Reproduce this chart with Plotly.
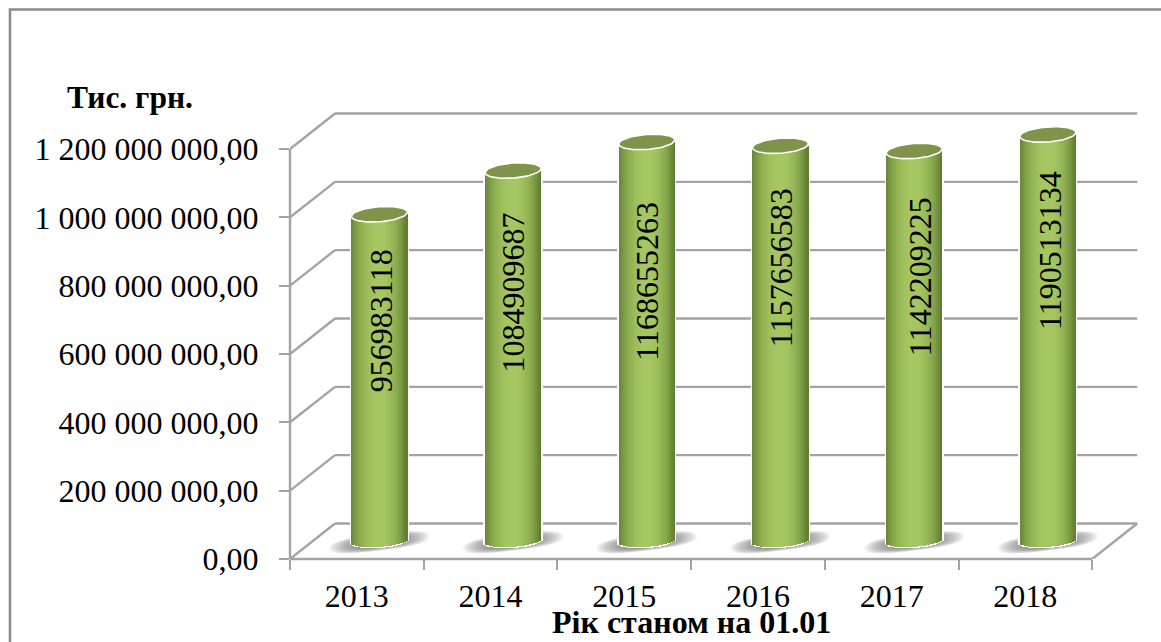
import math
import plotly.graph_objects as go

YEARS = ["2013", "2014", "2015", "2016", "2017", "2018"]
VALUES = [956983118, 1084909687, 1168655263, 1157656583, 1142209225, 1190513134]
LABELS = ["956983118", "1084909687", "1168655263", "1157656583", "1142209225", "1190513134"]
LABEL_SHIFT_PX = [106, 122, 139, 122, 126, 116]
LABEL_NUDGE_PX = [1.5, 0, 0, 0, 6, 2.7]
Y_TICKS = [0, 200e6, 400e6, 600e6, 800e6, 1000e6, 1200e6]
Y_TICK_LABELS = ["0,00", "200 000 000,00", "400 000 000,00", "600 000 000,00",
                 "800 000 000,00", "1 000 000 000,00", "1 200 000 000,00"]

# pixel geometry of the frame
W, H = 1161, 642
L, R, T, B = 290, 1142, 112, 559
CAT_PX = 133.7
VAL_PER_PX = 1.2e9 / 410
DX = 45 / CAT_PX
DY = 35.5 * VAL_PER_PX
XMIN = -0.5
XMAX = XMIN + (R - L) / CAT_PX
YMAX = (B - T) * VAL_PER_PX
RX = 28 / CAT_PX
RY = 7.5 * VAL_PER_PX
RY_BOTTOM = 5.5 * VAL_PER_PX
SHEAR = 0.07
GRID = "#a3a3a3"
STRIPS = 28


def mix(a, b, f):
    return tuple(a[i] + (b[i] - a[i]) * f for i in range(3))


def strip_color(t):
    edge = (104, 134, 56) if t < 0 else (92, 120, 48)
    mid = (166, 199, 97)
    c = mix(edge, mid, 1 - abs(t) ** 2.2)
    return "rgb(%d,%d,%d)" % c


cx = [i + DX / 2 for i in range(len(VALUES))]
base0 = DY / 2

sx, sy, sb, sw, sc = [], [], [], [], []
for i, v in enumerate(VALUES):
    for k in range(STRIPS + 2):
        t = -1 + (2 * k + 1) / (STRIPS + 2)
        sx.append(cx[i] + t * (RX + 1.5 / CAT_PX))
        w = 2 * (RX + 1.5 / CAT_PX) / (STRIPS + 2) * 1.1
        sw.append(w)
        b = base0 - (RY_BOTTOM + 1.3 * VAL_PER_PX) * math.sqrt(max(0, 1 - t * t)) + SHEAR * t * RX * CAT_PX * VAL_PER_PX
        sb.append(b)
        sy.append(base0 + v - b)
        sc.append("#ffffff")
    for k in range(STRIPS):
        t = -1 + (2 * k + 1) / STRIPS
        sx.append(cx[i] + t * RX)
        sw.append(2 * RX / STRIPS * 1.15)
        b = base0 - RY_BOTTOM * math.sqrt(max(0, 1 - t * t)) + SHEAR * t * RX * CAT_PX * VAL_PER_PX
        sb.append(b)
        sy.append(base0 + v - b)
        sc.append(strip_color(t))

fig = go.Figure()
fig.add_trace(go.Bar(x=sx, y=sy, base=sb, width=sw,
                     marker=dict(color=sc, line=dict(width=0)),
                     hoverinfo="skip", showlegend=False))

# cylinder tops
for i, v in enumerate(VALUES):
    ex, ey = [], []
    for a in range(73):
        th = a * math.pi / 36
        ct, st = math.cos(th), math.sin(th)
        ex.append(cx[i] + RX * ct)
        ey.append(base0 + v + RY * st + SHEAR * ct * RX * CAT_PX * VAL_PER_PX)
    fig.add_trace(go.Scatter(x=ex, y=ey, mode="lines", fill="toself", fillcolor="#7f944a",
                             line=dict(color="#ffffff", width=1.6),
                             hoverinfo="skip", showlegend=False))

shapes = []


def line(x0, y0, x1, y1, xref="x", yref="y", width=2.4, layer="below"):
    shapes.append(dict(type="line", x0=x0, y0=y0, x1=x1, y1=y1, xref=xref, yref=yref,
                       layer=layer, line=dict(color=GRID, width=width)))


back_x = XMIN + DX
end_x = len(VALUES) - 0.5 + DX
for v in Y_TICKS:
    line(XMIN, v, back_x, v + DY)
    line(back_x, v + DY, end_x, v + DY)
line(len(VALUES) - 0.5, 0, end_x, DY)
# axis lines
line(0, 0, 0, 1200e6, xref="paper")
shapes.append(dict(type="line", x0=XMIN, x1=len(VALUES) - 0.5, y0=0, y1=0, xref="x", yref="paper",
                   layer="below", line=dict(color=GRID, width=2.4)))

# floor shadows
for i in range(len(VALUES)):
    for n in range(12):
        f = n / 11
        rx = (50 - 24 * f) / CAT_PX
        ry = (8.5 - 3 * f) * VAL_PER_PX
        pts = []
        for a in range(48):
            th = a * math.pi / 24
            ct, st = math.cos(th), math.sin(th)
            uc = math.copysign(abs(ct) ** 0.75, ct)
            us = math.copysign(abs(st) ** 0.75, st)
            px = cx[i] + rx * uc
            py = base0 - 1 * VAL_PER_PX + ry * us + 0.12 * rx * CAT_PX * uc * VAL_PER_PX
            pts.append(f"{px:.4f},{py:.1f}")
        shapes.append(dict(type="path", path="M" + " L".join(pts) + " Z", xref="x", yref="y",
                           layer="below", fillcolor="rgba(90,90,90,0.075)", line=dict(width=0)))


# outer frame, running off the page on the right and bottom
def px_x(p):
    return (p - L) / (R - L)


def px_y(p):
    return (B - p) / (B - T)


frame = f"M{px_x(10)},{px_y(H + 5)} L{px_x(10)},{px_y(9.5)} L{px_x(W + 5)},{px_y(9.5)}"
shapes.append(dict(type="path", path=frame, xref="paper", yref="paper", layer="below",
                   line=dict(color="#8c8c8c", width=2.6)))

annotations = []
for i, v in enumerate(VALUES):
    annotations.append(dict(x=cx[i] + LABEL_NUDGE_PX[i] / CAT_PX,
                            y=base0 + v - LABEL_SHIFT_PX[i] * VAL_PER_PX,
                            xref="x", yref="y", text=LABELS[i], textangle=-90, showarrow=False,
                            xanchor="center", yanchor="middle",
                            font=dict(family="Liberation Serif", size=32, color="#000000")))
annotations.append(dict(x=px_x(130), y=px_y(98), xref="paper", yref="paper", text="<b>Тис. грн.</b>",
                        showarrow=False, xanchor="center", yanchor="middle",
                        font=dict(family="Liberation Serif", size=31.5, color="#000000")))
annotations.append(dict(x=2.5, y=px_y(622), xref="x", yref="paper", text="<b>Рік станом на 01.01</b>",
                        showarrow=False, xanchor="center", yanchor="middle",
                        font=dict(family="Liberation Serif", size=32, color="#000000")))

fig.update_layout(
    width=W, height=H,
    margin=dict(l=L, r=W - R, t=T, b=H - B, pad=0, autoexpand=False),
    paper_bgcolor="#ffffff", plot_bgcolor="#ffffff",
    barmode="overlay", bargap=0,
    shapes=shapes, annotations=annotations,
    font=dict(family="Liberation Serif", size=32, color="#000000"),
    xaxis=dict(range=[XMIN, XMAX], tickmode="array", tickvals=list(range(len(YEARS))), ticktext=YEARS,
               ticks="", showgrid=False, zeroline=False, showline=False, ticklabelstandoff=15,
               tickfont=dict(family="Liberation Serif", size=32, color="#000000"),
               minor=dict(tick0=-0.5, dtick=1, ticks="outside", ticklen=10, tickwidth=2.4, tickcolor=GRID,
                          showgrid=False)),
    yaxis=dict(range=[0, YMAX], tickmode="array", tickvals=Y_TICKS, ticktext=Y_TICK_LABELS,
               ticks="outside", ticklen=10, tickwidth=2.4, tickcolor=GRID, showgrid=False,
               zeroline=False, showline=False, ticklabelstandoff=14,
               tickfont=dict(family="Liberation Serif", size=32, color="#000000")),
)

fig.write_html("out.html", config=dict(displayModeBar=False),
               post_script="document.body.style.margin='0';document.documentElement.style.overflow='hidden';")
